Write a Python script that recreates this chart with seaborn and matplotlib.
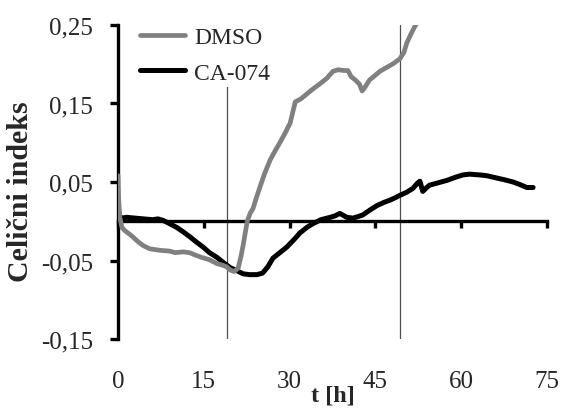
import numpy as np
import pandas as pd
import matplotlib
matplotlib.use("Agg")
import matplotlib.pyplot as plt
import seaborn as sns

# Cell index time courses (t in hours)
dmso_t = [0.0, 0.1, 0.3, 0.7, 1.2, 2.1, 2.6, 3.5, 4.4, 5.5, 7.3, 9.0, 10.0, 11.4, 12.5,
          13.5, 14.6, 16.0, 17.3, 18.3, 19.0, 19.6, 20.3, 21.0, 21.5, 21.9, 22.6, 23.1,
          23.6, 24.2, 24.8, 25.6, 26.6, 27.5, 28.3, 29.2, 30.1, 30.6, 31.0, 32.0, 33.0,
          34.0, 35.3, 36.5, 37.6, 38.5, 39.5, 40.2, 40.8, 41.5, 42.2, 42.7, 43.3, 44.0,
          45.0, 45.8, 47.0, 48.2, 49.3, 50.0, 50.5, 51.2, 51.9, 52.4]
dmso_ci = [0.058, 0.030, 0.005, -0.008, -0.012, -0.017, -0.020, -0.026, -0.031, -0.035,
           -0.037, -0.038, -0.040, -0.039, -0.040, -0.043, -0.046, -0.049, -0.054, -0.056,
           -0.058, -0.062, -0.064, -0.060, -0.045, -0.030, 0.000, 0.010, 0.016, 0.030,
           0.043, 0.060, 0.078, 0.090, 0.100, 0.112, 0.125, 0.140, 0.152, 0.156, 0.162,
           0.168, 0.175, 0.182, 0.191, 0.193, 0.192, 0.192, 0.184, 0.180, 0.175, 0.166,
           0.172, 0.180, 0.186, 0.191, 0.196, 0.201, 0.207, 0.215, 0.227, 0.238, 0.248,
           0.254]

ca074_t = [0.0, 0.2, 0.6, 1.5, 3.0, 4.5, 6.0, 7.0, 7.9, 9.0, 10.3, 11.5, 12.6, 13.8,
           14.9, 16.0, 17.3, 18.5, 19.6, 20.8, 21.9, 23.0, 24.3, 25.3, 26.2, 27.1, 28.3,
           29.5, 30.7, 31.8, 33.0, 34.1, 35.5, 37.1, 38.0, 38.8, 40.0, 41.1, 42.0, 42.8,
           44.0, 45.3, 46.5, 47.6, 48.5, 49.3, 50.5, 51.6, 52.3, 52.8, 53.3, 54.0, 54.5,
           56.0, 57.5, 59.0, 60.3, 61.5, 63.3, 64.5, 66.3, 67.5, 69.1, 70.2, 71.5, 72.6]
ca074_ci = [0.020, 0.008, 0.004, 0.005, 0.004, 0.003, 0.002, 0.003, 0.001, -0.003,
            -0.008, -0.014, -0.020, -0.027, -0.033, -0.040, -0.046, -0.053, -0.059,
            -0.063, -0.067, -0.068, -0.068, -0.066, -0.058, -0.047, -0.040, -0.033,
            -0.024, -0.015, -0.008, -0.003, 0.002, 0.005, 0.007, 0.010, 0.005, 0.004,
            0.006, 0.008, 0.014, 0.020, 0.024, 0.027, 0.030, 0.033, 0.037, 0.042, 0.048,
            0.051, 0.038, 0.043, 0.046, 0.049, 0.052, 0.056, 0.059, 0.060, 0.059, 0.058,
            0.055, 0.053, 0.050, 0.047, 0.043, 0.043]

event_times = [19.0, 49.3]

x_ticks = [0, 15, 30, 45, 60, 75]
y_ticks = [-0.15, -0.05, 0.05, 0.15, 0.25]
y_ticklabels = ["-0,15", "-0,05", "0,05", "0,15", "0,25"]

dmso = pd.DataFrame({"t": dmso_t, "ci": dmso_ci})
ca074 = pd.DataFrame({"t": ca074_t, "ci": ca074_ci})

sns.set_style("white")
plt.rcParams["font.family"] = ["Liberation Serif", "DejaVu Serif"]

fig = plt.figure(figsize=(5.62, 4.10), dpi=100)
ax = fig.add_axes([0.21, 0.1707, 0.763, 0.7659])

# treatment time markers
for tx in event_times:
    ax.axvline(tx, color="#505050", lw=0.9, zorder=1)

sns.lineplot(data=ca074, x="t", y="ci", ax=ax, color="black", lw=3.6,
             solid_joinstyle="round", solid_capstyle="round", zorder=3)
sns.lineplot(data=dmso, x="t", y="ci", ax=ax, color="#808080", lw=3.4,
             solid_joinstyle="round", solid_capstyle="round", zorder=4)

ax.set_xlim(0, 75)
ax.set_ylim(-0.15, 0.25)

for s in ["top", "right"]:
    ax.spines[s].set_visible(False)
ax.spines["left"].set_linewidth(2.4)
ax.spines["left"].set_color("black")
ax.spines["bottom"].set_position(("data", 0))
ax.spines["bottom"].set_linewidth(2.4)
ax.spines["bottom"].set_color("black")
ax.spines["bottom"].set_zorder(2)

ax.set_yticks(y_ticks)
ax.set_yticklabels(y_ticklabels)
ax.tick_params(axis="y", direction="out", length=6, width=2.4, color="black",
               labelsize=18, pad=12, left=True)
ax.set_xticks(x_ticks)
ax.tick_params(axis="x", direction="out", length=5, width=2.4, color="black",
               labelbottom=False, bottom=True)

# tick labels of the time axis sit below the plot area
sec = ax.secondary_xaxis("bottom")
sec.set_xticks(x_ticks)
sec.set_xticklabels([str(v) for v in x_ticks])
sec.spines["bottom"].set_visible(False)
sec.tick_params(axis="x", length=0, labelsize=18, pad=22)
sec.set_xlabel("t [h]", fontsize=17.5, fontweight="bold", labelpad=-5)

ax.set_xlabel("")
ax.set_ylabel("Celični indeks", fontsize=21.5, fontweight="bold")
ax.yaxis.set_label_coords(-0.196, 0.471)
ax.grid(False)

handles = [plt.Line2D([], [], color="#808080", lw=3.4),
           plt.Line2D([], [], color="black", lw=3.6)]
leg = ax.legend(handles, ["DMSO", "CA-074"], loc="upper left",
                bbox_to_anchor=(0.043, 1.005), fontsize=17, frameon=True,
                handlelength=1.9, handletextpad=0.4, labelspacing=0.58,
                borderpad=0.15, borderaxespad=0.0)
leg.get_frame().set_facecolor("white")
leg.get_frame().set_edgecolor("none")
leg.get_frame().set_alpha(1.0)
leg.set_zorder(5)

fig.savefig("out.png", dpi=100)
